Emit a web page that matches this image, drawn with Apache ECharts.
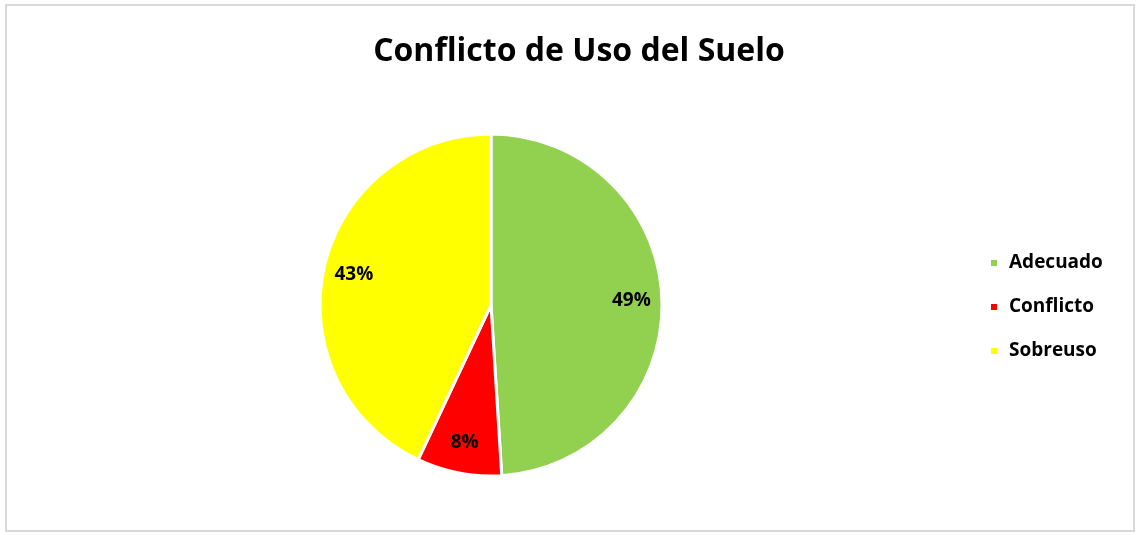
<!DOCTYPE html>
<html>
<head>
<meta charset="utf-8">
<script src="https://cdn.jsdelivr.net/npm/echarts@6/dist/echarts.min.js"></script>
<style>
  html, body { margin: 0; padding: 0; background: #fff; }
  #chart { width: 1136px; height: 535px; }
</style>
</head>
<body>
<div id="chart"></div>
<script>
const categories = ['Adecuado', 'Conflicto', 'Sobreuso']
const percents = [49, 8, 43]
const sliceColors = ['#92D050', '#FF0000', '#FFFF00']

const chart = echarts.init(document.getElementById('chart'))

const pieData = categories.map((name, i) => ({
  name,
  value: percents[i],
  itemStyle: { color: sliceColors[i] }
}))

const font = '"Open Sans", "Liberation Sans", sans-serif'

const option = {
  animation: false,
  backgroundColor: '#fff',
  title: {
    text: 'Conflicto de Uso del Suelo',
    left: 574,
    top: 31,
    textAlign: 'center',
    textStyle: {
      fontFamily: font,
      fontSize: 32,
      fontWeight: 'bold',
      color: '#000'
    }
  },
  legend: {
    orient: 'vertical',
    left: 989,
    top: 253,
    padding: 0,
    icon: 'rect',
    itemWidth: 8,
    itemHeight: 8,
    itemGap: 24,
    data: categories,
    textStyle: {
      fontFamily: font,
      fontSize: 19,
      fontWeight: 'bold',
      color: '#000',
      lineHeight: 20,
      padding: [0, 0, 0, 6]
    }
  },
  graphic: [{
    type: 'rect',
    shape: { x: 6, y: 5, width: 1128, height: 526 },
    style: { fill: 'none', stroke: '#d9d9d9', lineWidth: 2 },
    silent: true
  }],
  series: [
    {
      type: 'pie',
      center: [491, 305],
      radius: [0, 171],
      startAngle: 90,
      clockwise: true,
      data: pieData,
      label: { show: false },
      labelLine: { show: false },
      itemStyle: { borderColor: '#fff', borderWidth: 3 },
      emphasis: { disabled: true }
    },
    {
      // transparent ring used only to place labels further out
      type: 'pie',
      center: [491, 305],
      radius: [104, 171],
      startAngle: 90,
      clockwise: true,
      silent: true,
      legendHoverLink: false,
      data: categories.map((name, i) => ({ name: name + '_lbl', value: percents[i] })),
      itemStyle: { color: 'rgba(0,0,0,0)' },
      label: {
        show: true,
        position: 'inside',
        formatter: p => p.value + '%',
        fontFamily: font,
        fontSize: 19,
        fontWeight: 'bold',
        color: '#000'
      },
      labelLine: { show: false },
      emphasis: { disabled: true }
    }
  ]
}

chart.setOption(option)
</script>
</body>
</html>
